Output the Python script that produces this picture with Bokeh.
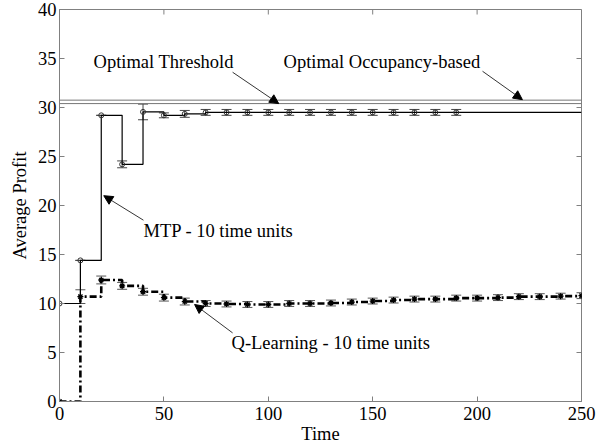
import math
from bokeh.plotting import figure
from bokeh.models import (Range1d, Whisker, TeeHead, ColumnDataSource,
                          Arrow, NormalHead, Label, Span, FixedTicker)
from bokeh.embed import file_html
from bokeh.resources import INLINE

# ---- data ----
mtp_t = [0, 10, 20, 30, 40, 50, 60, 70, 80, 90, 100, 110, 120, 130, 140, 150, 160, 170, 180, 190]
mtp_v = [10.0, 14.4, 29.2, 24.2, 29.55, 29.2, 29.35, 29.5, 29.5, 29.5, 29.5, 29.5, 29.5, 29.5,
         29.5, 29.5, 29.5, 29.5, 29.5, 29.5]
mtp_e = [0.0, 0.0, 0.0, 0.35, 0.8, 0.25, 0.35, 0.3, 0.3, 0.3, 0.3, 0.3, 0.3, 0.3,
         0.3, 0.3, 0.3, 0.3, 0.3, 0.3]

q_t = [0, 10, 20, 30, 40, 50, 60, 70, 80, 90, 100, 110, 120, 130, 140, 150, 160, 170, 180,
       190, 200, 210, 220, 230, 240, 250]
q_v = [0.0, 10.7, 12.4, 11.8, 11.2, 10.6, 10.2, 10.0, 9.95, 9.9, 9.9, 10.0, 10.0, 10.05,
       10.15, 10.25, 10.35, 10.45, 10.45, 10.55, 10.55, 10.6, 10.7, 10.7, 10.75, 10.8]
q_e = [0.0, 0.7, 0.4, 0.35, 0.35, 0.35, 0.35, 0.3, 0.3, 0.3, 0.3, 0.3, 0.3, 0.3,
       0.3, 0.3, 0.3, 0.3, 0.3, 0.3, 0.3, 0.3, 0.3, 0.3, 0.3, 0.3]

opt_threshold = 30.4
opt_occupancy = 30.75

x_ticks = [0, 50, 100, 150, 200, 250]
y_ticks = [0, 5, 10, 15, 20, 25, 30, 35, 40]
X_MAX = 250
Y_MAX = 40

FONT = "'Liberation Serif'"
FSIZE = "18.5px"
FRAME = "#808080"

p = figure(width=613, height=447, output_backend="svg", toolbar_location=None,
           x_range=Range1d(0, X_MAX), y_range=Range1d(0, Y_MAX),
           min_border_left=59, min_border_right=32, min_border_top=9, min_border_bottom=46,
           x_axis_label="Time", y_axis_label="Average Profit")
p.grid.visible = False
p.outline_line_color = FRAME
p.outline_line_width = 1

for ax in [p.xaxis[0], p.yaxis[0]]:
    ax.major_tick_in = 5
    ax.major_tick_out = 0
    ax.minor_tick_line_color = None
    ax.axis_line_color = FRAME
    ax.major_tick_line_color = FRAME
    ax.major_label_text_font = FONT
    ax.major_label_text_font_size = FSIZE
    ax.major_label_text_color = "black"
    ax.axis_label_text_font = FONT
    ax.axis_label_text_font_size = FSIZE
    ax.axis_label_text_font_style = "normal"
    ax.axis_label_text_color = "black"
    ax.major_label_standoff = 3
    ax.axis_label_standoff = 1
p.xaxis[0].ticker = FixedTicker(ticks=x_ticks)
p.yaxis[0].ticker = FixedTicker(ticks=y_ticks)
p.xaxis[0].major_label_standoff = 5
p.yaxis[0].axis_label_standoff = 5

# inward ticks on the top and right edges of the frame
p.ray(x=x_ticks, y=[Y_MAX] * len(x_ticks), length=5, length_units="screen",
      angle=-math.pi / 2, line_color=FRAME, line_width=1)
p.ray(x=[X_MAX] * len(y_ticks), y=y_ticks, length=5, length_units="screen",
      angle=math.pi, line_color=FRAME, line_width=1)

# optimal lines
p.add_layout(Span(location=opt_occupancy, dimension="width", line_color="#777777", line_width=1))
p.add_layout(Span(location=opt_threshold, dimension="width", line_color="#777777", line_width=1))

# MTP
mtp_src = ColumnDataSource(dict(t=mtp_t, v=mtp_v,
                                lo=[v - e for v, e in zip(mtp_v, mtp_e)],
                                hi=[v + e for v, e in zip(mtp_v, mtp_e)]))
p.step(mtp_t + [X_MAX], mtp_v + [mtp_v[-1]], mode="after", line_color="black", line_width=1.2)
p.add_layout(Whisker(base="t", lower="lo", upper="hi", source=mtp_src,
                     line_color="#444444", line_width=1,
                     lower_head=TeeHead(size=10, line_color="#444444"),
                     upper_head=TeeHead(size=10, line_color="#444444")))
p.scatter("t", "v", source=mtp_src, marker="circle", size=5, fill_color=None,
          line_color="#333333", line_width=1)

# Q-learning
q_src = ColumnDataSource(dict(t=q_t, v=q_v,
                              lo=[v - e for v, e in zip(q_v, q_e)],
                              hi=[v + e for v, e in zip(q_v, q_e)]))
p.step(q_t, q_v, mode="after", line_color="black", line_width=2.6, line_dash="7 3 2 3")
p.add_layout(Whisker(base="t", lower="lo", upper="hi", source=q_src,
                     line_color="#555555", line_width=1,
                     lower_head=TeeHead(size=10, line_color="#555555"),
                     upper_head=TeeHead(size=10, line_color="#555555")))
p.scatter("t", "v", source=q_src, marker="asterisk", size=6, line_color="black", line_width=1.3)
p.scatter("t", "v", source=q_src, marker="circle", size=3, fill_color="black", line_color="black")

# annotations
def arrow(x0, y0, x1, y1):
    p.add_layout(Arrow(end=NormalHead(size=9, fill_color="black", line_color="black"),
                       x_start=x0, y_start=y0, x_end=x1, y_end=y1,
                       line_color="black", line_width=0.8))

def label(x, y, txt):
    p.add_layout(Label(x=x, y=y, text=txt, text_font=FONT, text_font_size=FSIZE,
                       text_baseline="middle", text_align="left", text_color="black"))

label(16.3, 34.6, "Optimal Threshold")
arrow(82.9, 33.6, 105.0, 30.4)
label(107.3, 34.6, "Optimal Occupancy-based")
arrow(202.6, 33.7, 221.7, 30.8)
label(40.2, 17.4, "MTP - 10 time units")
arrow(40.2, 18.5, 21.2, 21.0)
label(82.4, 6.0, "Q-Learning - 10 time units")
arrow(82.9, 7.0, 64.7, 9.9)

open("out.html", "w").write(file_html(p, INLINE))
